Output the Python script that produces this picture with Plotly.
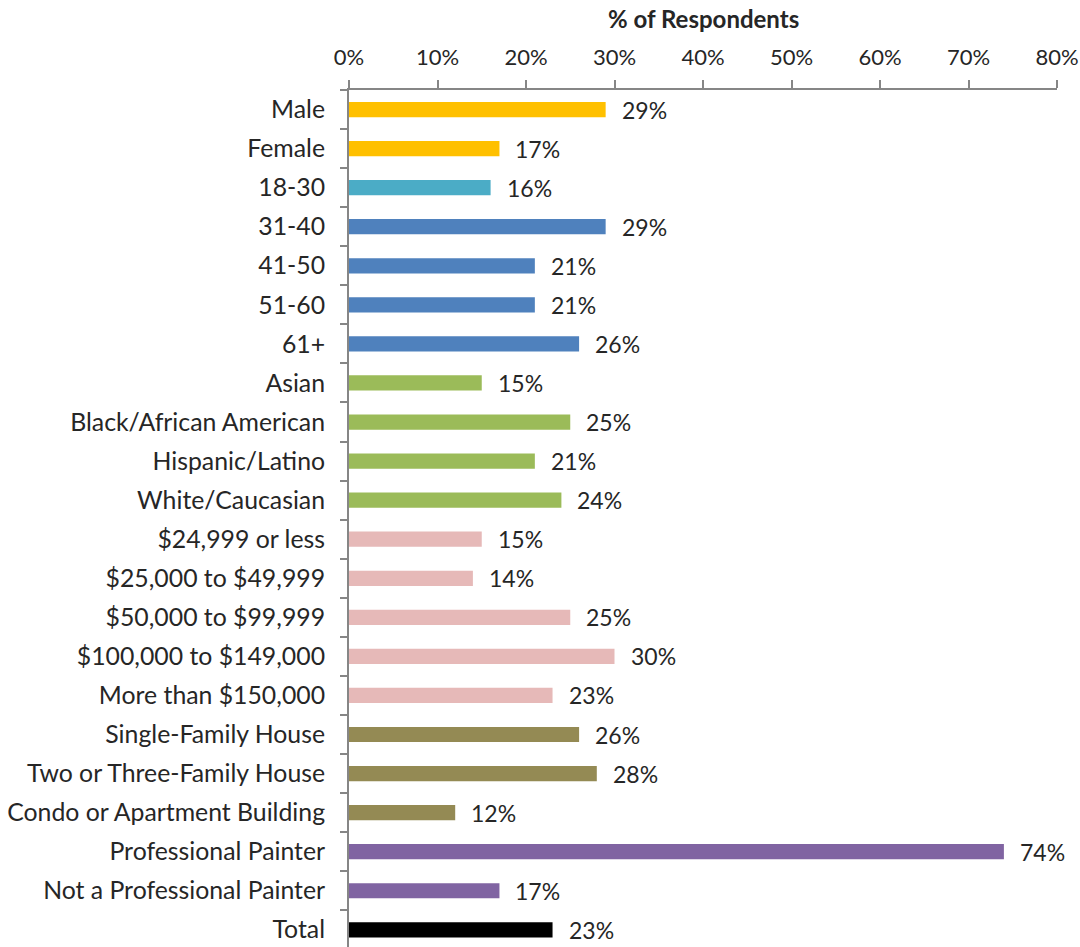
import plotly.graph_objects as go

# Survey breakdown: share of respondents by segment
categories = [
    "Male", "Female",
    "18-30", "31-40", "41-50", "51-60", "61+",
    "Asian", "Black/African American", "Hispanic/Latino", "White/Caucasian",
    "$24,999 or less", "$25,000 to $49,999", "$50,000 to $99,999",
    "$100,000 to $149,000", "More than $150,000",
    "Single-Family House", "Two or Three-Family House", "Condo or Apartment Building",
    "Professional Painter", "Not a Professional Painter",
    "Total",
]
values = [29, 17, 16, 29, 21, 21, 26, 15, 25, 21, 24, 15, 14, 25, 30, 23, 26, 28, 12, 74, 17, 23]
bar_colors = [
    "#FFC000", "#FFC000",
    "#4BACC6", "#4F81BD", "#4F81BD", "#4F81BD", "#4F81BD",
    "#9BBB59", "#9BBB59", "#9BBB59", "#9BBB59",
    "#E6B9B8", "#E6B9B8", "#E6B9B8", "#E6B9B8", "#E6B9B8",
    "#948A54", "#948A54", "#948A54",
    "#8064A2", "#8064A2",
    "#000000",
]
x_ticks = [0, 10, 20, 30, 40, 50, 60, 70, 80]

FONT = "Lato"
AXIS_GRAY = "#868686"
TEXT = "#262626"

fig = go.Figure(
    go.Bar(
        x=values,
        y=categories,
        orientation="h",
        marker=dict(color=bar_colors, line=dict(width=0)),
        width=0.39,
        hoverinfo="skip",
    )
)

# value labels to the right of each bar
for cat, v in zip(categories, values):
    fig.add_annotation(
        x=v, y=cat, text=f"{v}%", showarrow=False,
        xanchor="left", yanchor="middle", xshift=14,
        font=dict(family=FONT, size=23, color=TEXT),
    )

fig.add_annotation(
    x=0.5, y=1.084, xref="paper", yref="paper",
    text="<b>% of Respondents</b>", showarrow=False,
    xanchor="center", yanchor="middle",
    font=dict(family=FONT, size=24, color=TEXT),
)

fig.update_layout(
    width=1080, height=947,
    margin=dict(l=349, r=23, t=90, b=0),
    paper_bgcolor="white", plot_bgcolor="white",
    showlegend=False,
    xaxis=dict(
        side="top", range=[0, 80],
        tickvals=x_ticks, ticktext=[f"{t}%" for t in x_ticks],
        ticks="outside", ticklen=8, tickwidth=2, tickcolor=AXIS_GRAY,
        showline=True, linecolor=AXIS_GRAY, linewidth=2,
        showgrid=False, zeroline=False,
        tickfont=dict(family=FONT, size=22, color=TEXT),
        ticklabelstandoff=6,
    ),
    yaxis=dict(
        autorange=False, range=[21.44, -0.5],
        categoryorder="array", categoryarray=categories,
        ticks="outside", ticklen=7, tickwidth=2, tickcolor=AXIS_GRAY,
        tickson="boundaries",
        showline=True, linecolor=AXIS_GRAY, linewidth=2,
        showgrid=False, zeroline=False,
        tickfont=dict(family=FONT, size=24.8, color=TEXT),
        ticklabelstandoff=17,
    ),
)

fig.write_html("out.html")
